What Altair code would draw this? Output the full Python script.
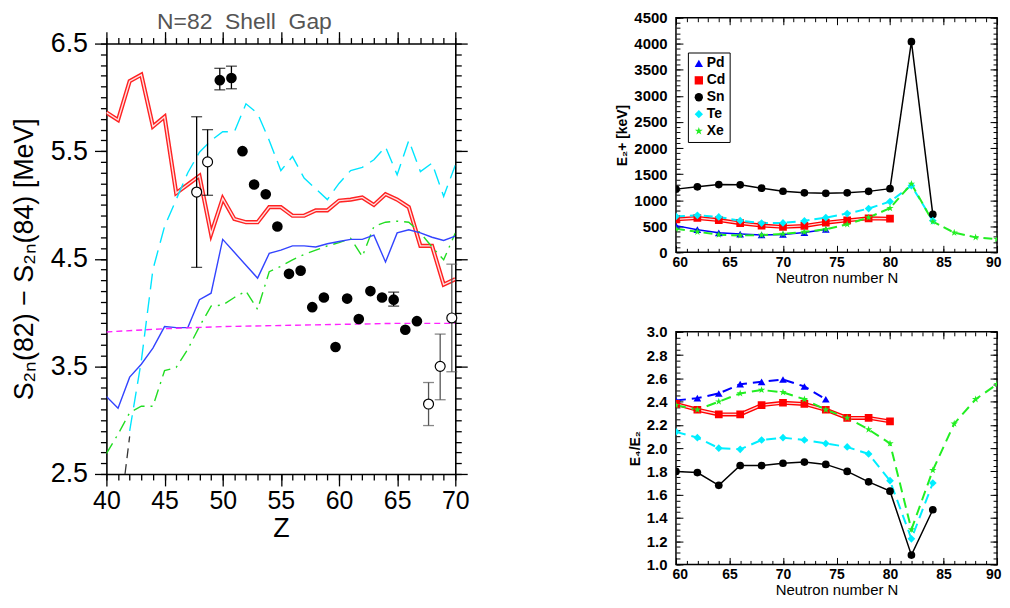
import altair as alt
import pandas as pd

# ---------------- Left panel: S2n(82) - S2n(84) vs Z ----------------
Z_THEORY = list(range(40, 71))
RED_VAL = [5.86, 5.79, 6.15, 6.21, 5.73, 5.82, 5.11, 5.19, 5.27, 4.73,
           5.06, 4.87, 4.84, 4.84, 4.98, 4.98, 4.90, 4.90, 4.95, 4.95,
           5.04, 5.05, 5.07, 5.00, 5.10, 5.05, 4.98, 4.62, 4.62, 4.26, 4.31]
BLUE_VAL = [3.22, 3.11, 3.40, 3.52, 3.67, 3.87, 3.86, 3.86, 4.12, 4.18,
            4.68, 4.56, 4.44, 4.32, 4.55, 4.58, 4.62, 4.62, 4.61, 4.64,
            4.66, 4.68, 4.68, 4.72, 4.47, 4.74, 4.77, 4.74, 4.70, 4.67, 4.71]
GREEN_VAL = [2.69, 2.87, 3.07, 3.13, 3.13, 3.46, 3.49, 3.66, 3.87, 4.06,
             4.07, 4.14, 4.20, 4.03, 4.38, 4.43, 4.49, 4.54, 4.58, 4.62,
             4.65, 4.69, 4.52, 4.80, 4.84, 4.85, 4.84, 4.74, 4.61, 4.49, 4.74]
Z_CYAN = list(range(42, 71))
CYAN_VAL = [2.90, 3.55, 4.40, 4.80, 5.05, 5.30, 5.49, 5.60, 5.68, 5.68,
            5.94, 5.85, 5.60, 5.32, 5.45, 5.25, 5.15, 5.05, 5.20, 5.32,
            5.35, 5.42, 5.54, 5.28, 5.60, 5.31, 5.39, 5.08, 5.37]
Z_MAGENTA = [40, 45, 50, 55, 60, 65, 70]
MAGENTA_VAL = [3.82, 3.85, 3.87, 3.88, 3.89, 3.90, 3.90]
Z_BLACK = [41.6, 42.0]
BLACK_VAL = [2.50, 2.85]

EXP_Z = [49.75, 50.75, 51.7, 52.7, 53.7, 54.7, 55.7, 56.7, 57.7, 58.7,
         59.7, 60.7, 61.7, 62.7, 63.7, 64.7, 65.7, 66.7]
EXP_VAL = [6.16, 6.18, 5.50, 5.19, 5.10, 4.80, 4.36, 4.39, 4.05, 4.14,
           3.68, 4.13, 3.94, 4.20, 4.14, 4.12, 3.84, 3.92]
EXP_BAR_Z = [49.75, 50.75, 64.7]
EXP_BAR_LO = [6.07, 6.08, 4.06]
EXP_BAR_HI = [6.27, 6.29, 4.19]

EST_Z = [47.76, 48.7, 67.7, 68.7, 69.7]
EST_VAL = [5.12, 5.40, 3.15, 3.50, 3.95]
EST_LO = [4.42, 5.09, 2.95, 3.19, 3.45]
EST_HI = [5.82, 5.70, 3.35, 3.80, 4.45]
EST_BAR_COLOR = ["black", "black", "#555555", "#555555", "#555555"]

Z_MAJOR = [40, 45, 50, 55, 60, 65, 70]
Z_MINOR = list(range(40, 71))
V_MAJOR = [2.5, 3.5, 4.5, 5.5, 6.5]
V_MINOR = [round(2.5 + 0.1 * i, 2) for i in range(41)]

# ---------------- Right panels: E(2+) and E4/E2 vs N ----------------
ELEMENTS = ["Pd", "Cd", "Sn", "Te", "Xe"]
EL_COLORS = ["#0000ff", "#ff0000", "#000000", "#00eeff", "#22ee22"]
STAR = ("M0,-1L0.2245,-0.309L0.9511,-0.309L0.3633,0.118L0.5878,0.809"
        "L0,0.382L-0.5878,0.809L-0.3633,0.118L-0.9511,-0.309L-0.2245,-0.309Z")
EL_SHAPES = ["triangle-up", "square", "circle", "diamond", STAR]

N_PD = [60, 62, 64, 66, 68, 70, 72, 74]
N_CD = [60, 62, 64, 66, 68, 70, 72, 74, 76, 78, 80]
N_SN = [60, 62, 64, 66, 68, 70, 72, 74, 76, 78, 80, 82, 84]
N_TE = [60, 62, 64, 66, 68, 70, 72, 74, 76, 78, 80, 82, 84]
N_XE = [60, 62, 64, 66, 68, 70, 72, 74, 76, 78, 80, 82, 84, 86, 88, 90]

E2_PD = [512, 434, 374, 349, 333, 341, 379, 438]
E2_CD = [633, 658, 618, 558, 513, 488, 506, 569, 613, 652, 645]
E2_SN = [1212, 1257, 1300, 1294, 1230, 1171, 1141, 1132, 1141, 1169, 1221, 4041, 726]
E2_TE = [689, 709, 679, 606, 560, 564, 603, 666, 743, 839, 974, 1279, 607]
E2_XE = [450, 394, 337, 323, 331, 354, 389, 443, 536, 668, 847, 1313, 589, 377, 287, 253]

R42_PD = [2.41, 2.43, 2.47, 2.55, 2.57, 2.59, 2.53, 2.42]
R42_CD = [2.38, 2.33, 2.29, 2.29, 2.37, 2.39, 2.38, 2.33, 2.26, 2.26, 2.23]
R42_SN = [1.80, 1.79, 1.68, 1.85, 1.85, 1.87, 1.88, 1.86, 1.80, 1.71, 1.63, 1.08, 1.47]
R42_TE = [2.14, 2.09, 2.00, 1.99, 2.07, 2.09, 2.07, 2.04, 2.01, 1.95, 1.72, 1.22, 1.70]
R42_XE = [2.37, 2.33, 2.40, 2.47, 2.50, 2.48, 2.42, 2.33, 2.26, 2.16, 2.04, 1.30, 1.81, 2.21, 2.42, 2.55]

N_MAJOR = [60, 65, 70, 75, 80, 85, 90]
N_MINOR = list(range(60, 91))
E2_MAJOR = list(range(0, 4501, 500))
E2_MINOR = list(range(0, 4501, 100))
R_MAJOR = [1.0, 1.2, 1.4, 1.6, 1.8, 2.0, 2.2, 2.4, 2.6, 2.8, 3.0]
R_MINOR = [round(1.0 + 0.05 * i, 2) for i in range(41)]

FONT = "Liberation Sans"

# ======================= LEFT PANEL =======================
# The view is 459 px tall; the data frame occupies its lower 433 px so that
# the right-hand top panel can start higher than the left frame.
LEFT_H = 459
LEFT_TOP = 26
xs_l = alt.Scale(domain=[40, 70], nice=False, zero=False)
ys_l = alt.Scale(domain=[2.5, 6.5], nice=False, zero=False, range=[LEFT_H, LEFT_TOP])


def out_tick_axis(orient, vals, size, domain=False, offset=0):
    kw = dict(orient=orient, values=vals, tickSize=size, tickWidth=1.3,
              tickColor="black", labels=False, grid=False, title=None,
              domain=domain, domainColor="black", domainWidth=1.6)
    if offset:
        kw["offset"] = offset
    return alt.Axis(**kw)


x_lab_l = alt.Axis(orient="bottom", values=Z_MAJOR, tickSize=12, tickWidth=1.3,
                   tickColor="black", domain=True, domainColor="black",
                   domainWidth=1.6, grid=False,
                   labelFontSize=25, labelFont=FONT, labelColor="black",
                   labelPadding=3, labelFlush=False, title="Z",
                   titleFontSize=27, titleFont=FONT, titleFontWeight="normal",
                   titlePadding=2)
y_lab_l = alt.Axis(orient="left", values=V_MAJOR, format=".1f", tickSize=12,
                   tickWidth=1.3, tickColor="black", domain=True,
                   domainColor="black", domainWidth=1.6, grid=False,
                   labelFontSize=27, labelFont=FONT, labelColor="black",
                   labelPadding=7, labelFlush=False,
                   title="S\u2082\u2099(82)  \u2212  S\u2082\u2099(84)   [MeV]",
                   titleFontSize=27, titleFont=FONT, titleFontWeight="normal",
                   titlePadding=12)


def theory_df(zs, vs):
    return pd.DataFrame({"Z": zs, "V": vs})


def left_line(df, color, width, xaxis, yaxis, dash=None):
    kw = dict(color=color, strokeWidth=width, clip=True)
    if dash is not None:
        kw["strokeDash"] = dash
    return alt.Chart(df).mark_line(**kw).encode(
        x=alt.X("Z:Q", scale=xs_l, axis=xaxis),
        y=alt.Y("V:Q", scale=ys_l, axis=yaxis),
    )


df_red = theory_df(Z_THEORY, RED_VAL)
df_blue = theory_df(Z_THEORY, BLUE_VAL)
df_green = theory_df(Z_THEORY, GREEN_VAL)
df_cyan = theory_df(Z_CYAN, CYAN_VAL)
df_mag = theory_df(Z_MAGENTA, MAGENTA_VAL)
df_blk = theory_df(Z_BLACK, BLACK_VAL)

l_cyan = left_line(df_cyan, "#00e5ff", 1.4,
                   out_tick_axis("top", Z_MAJOR, 12, domain=True, offset=-LEFT_TOP),
                   out_tick_axis("right", V_MAJOR, 12, domain=True), dash=[16, 8])
l_green = left_line(df_green, "#22dd22", 1.4,
                    out_tick_axis("top", Z_MINOR, 6, offset=-LEFT_TOP),
                    out_tick_axis("right", V_MINOR, 6), dash=[12, 6, 2, 6])
l_blue = left_line(df_blue, "#3344ff", 1.4, None, None)
l_mag = left_line(df_mag, "#ff22ff", 1.4, None, None, dash=[6, 4])
l_blk = left_line(df_blk, "#333333", 1.3, None, None, dash=[10, 6])
l_red_o = left_line(df_red, "#ff2222", 4.2, x_lab_l, y_lab_l)
l_red_i = left_line(df_red, "#ffe0e0", 1.4, out_tick_axis("bottom", Z_MINOR, 6),
                    out_tick_axis("left", V_MINOR, 6))

df_exp = pd.DataFrame({"Z": EXP_Z, "V": EXP_VAL})
df_expbar = pd.DataFrame({"Z": EXP_BAR_Z, "lo": EXP_BAR_LO, "hi": EXP_BAR_HI,
                          "c": ["black"] * len(EXP_BAR_Z)})
df_est = pd.DataFrame({"Z": EST_Z, "V": EST_VAL})
df_estbar = pd.DataFrame({"Z": EST_Z, "lo": EST_LO, "hi": EST_HI,
                          "c": EST_BAR_COLOR})
df_bars = pd.concat([df_expbar, df_estbar], ignore_index=True)
df_caps = df_bars.melt(id_vars=["Z", "c"], value_vars=["lo", "hi"],
                       value_name="V")

bars = alt.Chart(df_bars).mark_rule(strokeWidth=1.3).encode(
    x=alt.X("Z:Q", scale=xs_l, axis=None),
    y=alt.Y("lo:Q", scale=ys_l, axis=None),
    y2="hi:Q",
    color=alt.Color("c:N", scale=None),
)
caps = alt.Chart(df_caps).mark_tick(orient="horizontal", size=11, thickness=1.3).encode(
    x=alt.X("Z:Q", scale=xs_l, axis=None),
    y=alt.Y("V:Q", scale=ys_l, axis=None),
    color=alt.Color("c:N", scale=None),
)
exp_pts = alt.Chart(df_exp).mark_circle(color="black", size=115, opacity=1).encode(
    x=alt.X("Z:Q", scale=xs_l, axis=None),
    y=alt.Y("V:Q", scale=ys_l, axis=None),
)
est_pts = alt.Chart(df_est).mark_circle(fill="white", stroke="black", strokeWidth=1.2,
                                        size=100, opacity=1).encode(
    x=alt.X("Z:Q", scale=xs_l, axis=None),
    y=alt.Y("V:Q", scale=ys_l, axis=None),
)

left = alt.layer(
    l_red_o, l_red_i, l_cyan, l_green, l_blue, l_mag, l_blk,
    bars, caps, exp_pts, est_pts,
).resolve_axis(x="independent", y="independent").properties(
    width=351, height=LEFT_H,
    view=alt.ViewBackground(stroke="transparent"),
    title=alt.TitleParams(text="N=82\u00a0\u00a0Shell\u00a0\u00a0Gap", fontSize=23,
                          font=FONT, fontWeight="normal", color="#555555",
                          anchor="start", frame="group", dx=51, offset=-16),
)


# ======================= RIGHT PANELS =======================
def in_tick_axis(orient, vals, size):
    return alt.Axis(orient=orient, values=vals, offset=-size, tickSize=size,
                    tickWidth=1, tickColor="black", labels=False, domain=False,
                    grid=False, title=None)


def right_panel(vals, y_dom, y_major, y_minor, y_fmt, y_title, h, styles, legend):
    xs = alt.Scale(domain=[60, 90], nice=False, zero=False)
    ys = alt.Scale(domain=y_dom, nice=False, zero=False)
    x_lab = alt.Axis(orient="bottom", values=N_MAJOR, ticks=False, domain=False,
                     grid=False, labelFontSize=14, labelFontWeight="bold",
                     labelFont=FONT, labelColor="black", labelPadding=3,
                     labelFlush=True, labelFlushOffset=4,
                     title="Neutron number N", titleFontSize=15,
                     titleFont=FONT, titleFontWeight="normal", titlePadding=1)
    y_lab = alt.Axis(orient="left", values=y_major, format=y_fmt, ticks=False,
                     domain=False, grid=False, labelFontSize=15,
                     labelFontWeight="bold", labelFont=FONT, labelColor="black",
                     labelPadding=9, labelFlush=False, title=y_title,
                     titleFontSize=14, titleFont=FONT, titleFontWeight="bold",
                     titlePadding=4)
    x_axes = [x_lab, in_tick_axis("bottom", N_MAJOR, 7), in_tick_axis("bottom", N_MINOR, 4),
              in_tick_axis("top", N_MAJOR, 7), in_tick_axis("top", N_MINOR, 4)]
    y_axes = [y_lab, in_tick_axis("left", y_major, 7), in_tick_axis("left", y_minor, 4),
              in_tick_axis("right", y_major, 7), in_tick_axis("right", y_minor, 4)]

    frames = []
    layers = []
    for i, el in enumerate(ELEMENTS):
        ns, vs = vals[el]
        df = pd.DataFrame({"N": ns, "val": vs, "el": el})
        frames.append(df)
        color, dash, width = styles[el]
        kw = dict(color=color, strokeWidth=width, clip=True)
        if dash is not None:
            kw["strokeDash"] = dash
        layers.append(alt.Chart(df).mark_line(**kw).encode(
            x=alt.X("N:Q", scale=xs, axis=x_axes[i]),
            y=alt.Y("val:Q", scale=ys, axis=y_axes[i]),
        ))
        if el == "Cd":
            layers.append(alt.Chart(df).mark_line(color="#ffd8d8", strokeWidth=1.3,
                                                  clip=True).encode(
                x=alt.X("N:Q", scale=xs, axis=None),
                y=alt.Y("val:Q", scale=ys, axis=None),
            ))
    all_df = pd.concat(frames, ignore_index=True)
    pts = alt.Chart(all_df).mark_point(filled=True, size=60, opacity=1, clip=True).encode(
        x=alt.X("N:Q", scale=xs, axis=None),
        y=alt.Y("val:Q", scale=ys, axis=None),
        color=alt.Color("el:N", scale=alt.Scale(domain=ELEMENTS, range=EL_COLORS),
                        legend=legend),
        shape=alt.Shape("el:N", scale=alt.Scale(domain=ELEMENTS, range=EL_SHAPES),
                        legend=legend),
    )
    layers.append(pts)
    return alt.layer(*layers).resolve_axis(x="independent", y="independent").properties(
        width=323, height=h,
        view=alt.ViewBackground(stroke="black", strokeWidth=1.5))


legend_top = alt.Legend(title=None, orient="none", legendX=12, legendY=35,
                        strokeColor="black", fillColor="white", padding=4,
                        labelFontSize=14, labelFontWeight="bold", labelFont=FONT,
                        labelColor="black", symbolSize=70, rowPadding=3,
                        labelOffset=1, cornerRadius=0, symbolStrokeWidth=0)

styles_top = {
    "Pd": ("#0000ff", None, 1.5),
    "Cd": ("#ff0000", None, 4.0),
    "Sn": ("#000000", None, 1.5),
    "Te": ("#00eeff", [9, 5], 2.0),
    "Xe": ("#22ee22", [9, 5], 2.0),
}
styles_bot = {
    "Pd": ("#0000ff", [10, 6], 2.0),
    "Cd": ("#ff0000", None, 4.0),
    "Sn": ("#000000", None, 1.5),
    "Te": ("#00eeff", [10, 6], 2.0),
    "Xe": ("#22ee22", [10, 6], 2.0),
}

top = right_panel(
    {"Pd": (N_PD, E2_PD), "Cd": (N_CD, E2_CD), "Sn": (N_SN, E2_SN),
     "Te": (N_TE, E2_TE), "Xe": (N_XE, E2_XE)},
    [0, 4500], E2_MAJOR, E2_MINOR, "d", "E\u2082+  [keV]", 236, styles_top, legend_top)
bottom = right_panel(
    {"Pd": (N_PD, R42_PD), "Cd": (N_CD, R42_CD), "Sn": (N_SN, R42_SN),
     "Te": (N_TE, R42_TE), "Xe": (N_XE, R42_XE)},
    [1.0, 3.0], R_MAJOR, R_MINOR, ".1f", "E\u2084/E\u2082", 234, styles_bot, None)

right = alt.vconcat(top, bottom, spacing=38).resolve_scale(
    color="independent", shape="independent")

chart = alt.hconcat(left, right, spacing=145).resolve_scale(
    color="independent", shape="independent"
).properties(
    padding={"left": 1, "top": 0, "right": 0, "bottom": 0}
).configure(font=FONT).configure_view(stroke="transparent")

chart.save("out.html", embed_options={"renderer": "svg", "actions": False})
